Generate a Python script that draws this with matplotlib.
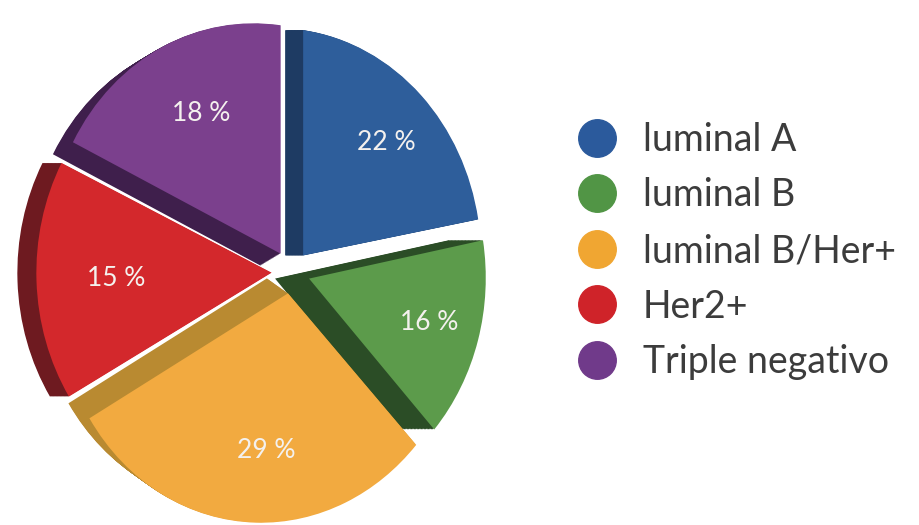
import numpy as np
import matplotlib
matplotlib.use("Agg")
import matplotlib.pyplot as plt
from matplotlib.transforms import Transform, Affine2D
from matplotlib.lines import Line2D

# ---- data ----
categories = ["luminal A", "luminal B", "luminal B/Her+", "Her2+", "Triple negativo"]
values = [22, 16, 29, 15, 18]

# ---- style ----
face_colors = ["#2e5e9b", "#5c9b4b", "#f2aa40", "#d3282c", "#7b408d"]
side_colors = ["#1e3b63", "#2b4d26", "#b98a31", "#6e1a20", "#3f1f4c"]
legend_colors = ["#2b5a9c", "#519545", "#f0a632", "#cf2329", "#703a8a"]
side_dx = [-18, -34, -21, -19, -20]   # extrusion direction per slice (px)
side_dy = [0, 0, 15, 0, -12]

plt.rcParams["font.family"] = ["Lato", "DejaVu Sans"]


class Perspective(Transform):
    """Mild perspective so the left side of the pie looks nearer."""
    input_dims = 2
    output_dims = 2
    is_separable = False
    has_inverse = False

    def __init__(self, k):
        super().__init__()
        self.k = k

    def transform_non_affine(self, values):
        v = np.asarray(values, dtype=float)
        d = 1.0 + self.k * v[:, 0]
        return np.column_stack([v[:, 0] / d, v[:, 1] / d])


W, H = 920, 525
fig = plt.figure(figsize=(W / 100, H / 100), dpi=100)
ax = fig.add_axes([0, 0, 1, 1])

persp = Perspective(0.12)
explode = [0.095] * len(values)

# extruded sides (stacked shifted copies)
n_steps = 24
for i in range(n_steps, 0, -1):
    f = i / n_steps
    wedges, _ = ax.pie(values, colors=side_colors, startangle=90, counterclock=False,
                       explode=explode, radius=1.0,
                       wedgeprops=dict(linewidth=0))
    for j, w in enumerate(wedges):
        w.set_transform(persp + ax.transData +
                        Affine2D().translate(side_dx[j] * f, side_dy[j] * f))

# top faces
wedges, _, autotexts = ax.pie(values, colors=face_colors, startangle=90, counterclock=False,
                              explode=explode, radius=1.0, pctdistance=0.69,
                              autopct=lambda p: f"{p:.0f} %",
                              wedgeprops=dict(linewidth=0))
for w in wedges:
    w.set_transform(persp + ax.transData)
for t in autotexts:
    t.set_transform(persp + ax.transData)
    t.set_color("#f4f1ee")
    t.set_fontsize(19)

cx, cy, sx, sy = 291.0, 272.0, 202.0, 227.0
ax.set_aspect("auto")
ax.set_xlim(-cx / sx, (W - cx) / sx)
ax.set_ylim(-(H - cy) / sy, cy / sy)
ax.axis("off")

handles = [Line2D([], [], marker="o", linestyle="", markersize=27,
                  markerfacecolor=c, markeredgecolor=c) for c in legend_colors]
fig.legend(handles, categories, loc="upper left",
           bbox_to_anchor=(578.6 / W, 1 - 122 / H), frameon=False,
           fontsize=27, labelcolor="#3c3c3c", handlelength=0.98,
           handletextpad=0.74, labelspacing=0.52, borderpad=0, borderaxespad=0)

fig.savefig("out.png", dpi=100)
